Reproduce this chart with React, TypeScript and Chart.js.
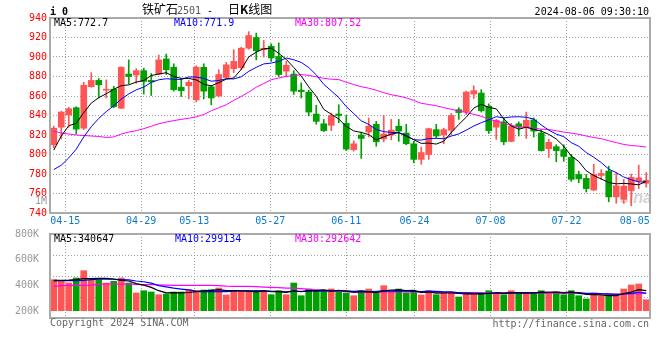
import React, { useEffect, useRef } from 'react';
import { Chart, registerables } from 'chart.js';

Chart.register(...registerables);

// ---------- data ----------
const DATES = [
  '04-11','04-12','04-15','04-16','04-17','04-18','04-19','04-22','04-23','04-24',
  '04-25','04-26','04-29','04-30','05-06','05-07','05-08','05-09','05-10','05-13',
  '05-14','05-15','05-16','05-17','05-20','05-21','05-22','05-23','05-24','05-27',
  '05-28','05-29','05-30','05-31','06-03','06-04','06-05','06-06','06-07','06-11',
  '06-12','06-13','06-14','06-17','06-18','06-19','06-20','06-21','06-24','06-25',
  '06-26','06-27','06-28','07-01','07-02','07-03','07-04','07-05','07-08','07-09',
  '07-10','07-11','07-12','07-15','07-16','07-17','07-18','07-19','07-22','07-23',
  '07-24','07-25','07-26','07-29','07-30','07-31','08-01','08-02','08-05','08-06',
];
const X_TICKS = ['04-15','04-29','05-13','05-27','06-11','06-24','07-08','07-22','08-05'];

const OPEN = [
  810,828,840.5,848,827,869.5,876,866,867,847.5,
  882.5,881.5,886,876,882.5,898,889.5,869,870.5,856,
  889.5,869.5,860,879,888,889,909,920,907.5,911,
  900.5,885.5,882.5,866,864,841.5,831.5,830,841.5,832,
  805,820,823,831,816,820,829,822,811,795,
  800,825.5,820,825,846,844,862,863,849.5,828,
  833.5,813.5,831.5,827.5,835.5,822,806,808,805,797,
  779.5,775.5,763.5,778.5,783,756.5,754,763,773,770.5,
];
const HIGH = [
  829,844.5,848.5,849,874,884,878,876.5,870,890,
  897,888,888.5,883,902,903,893,878,876,891,
  893,871,887,894.5,907.5,910,926,924.5,917,913.5,
  914.5,895.5,886,873.5,866,850.5,836,842.5,851,840,
  814,823,837.5,834,840,836,836,831,813.5,807.5,
  827,831,827,842,848,865,870.5,866.5,852,836,
  837.5,832,833.5,843.5,837.5,825.5,815.5,810,810,800,
  783,779.5,790,784.5,788,781.5,774.5,780,789,781.5,
];
const LOW = [
  807,816,828,821,825.5,869,858,858,848,847,
  872.5,873,862,860.5,882,882,865,859.5,857,854,
  857,851,859,878,884,887,908,897,900,895.5,
  880,880,861.5,858,839.5,831,823.5,824.5,832.5,804,
  803.5,796,818,808.5,813,815,813.5,810,791.5,790,
  795,817,811,820,836,841,857.5,843.5,821.5,815.5,
  810,813,819,816.5,818,803.5,797,792.5,793,772.5,
  771,761.5,763,774.5,751.5,750,750,747.5,765,766.5,
];
const CLOSE = [
  827,843.5,847,826,871,876,871.5,867,849,889.5,
  880,886,875,874.5,897,887,866.5,865.5,874,889.5,
  865,858,882,892,895.5,909,922,906.5,909,899,
  882,891.5,865,864.5,843.5,834,824.5,840,840,805.5,
  811,816.5,829,813,821,825,824,811,795,802,
  826.5,819,825.5,840,843,864,865.5,845,824.5,835,
  813,829,828,835,824,804,812.5,804,798,774.5,
  775,765,779.5,780.5,756.5,768,767.5,776.5,776,773.5,
];
const MA5 = [
  804.5,819,829.5,832,842.9,852.7,858.3,862.3,866.9,870.6,
  871.4,874.3,875.9,881,882.5,883.9,880,878.1,878,876.5,
  872.1,870.4,873.7,877.3,878.5,887.3,900.1,905,908.4,909.1,
  903.7,897.6,889.3,880.4,869.3,859.7,846.3,841.3,836.4,828.8,
  824.2,822.6,820.4,815,818.1,820.9,822.4,818.8,815.2,811.4,
  811.7,810.7,813.6,822.6,830.8,838.3,847.6,851.5,848.4,846.8,
  836.6,829.3,825.9,828,825.8,824,820.7,815.9,808.5,798.6,
  792.8,783.3,778.4,774.9,771.3,769.9,770.4,769.8,768.9,772.7,
];
const MA10 = [
  784.5,789,796.5,805.5,818,828.5,837,844,850,856.8,
  862.1,866.3,869.1,874,876.6,877.7,877.2,877,879.5,879.5,
  878,875.2,875.9,877.7,877.5,879.7,885.3,889.4,892.9,893.8,
  895.5,898.9,897.2,894.4,889.2,881.7,872,865.3,858.4,849.1,
  842,834.5,830.9,825.7,823.5,822.6,822.5,819.6,815.1,814.8,
  816.3,816.6,816.2,818.9,821.1,825,829.2,832.6,835.5,838.8,
  837.5,838.5,838.7,838.2,836.3,830.3,825,820.9,818.3,812.2,
  808.4,802,797.2,791.7,785,781.4,776.9,774.1,771.9,771.9,
];
const MA30 = [
  824,822,821,820,819.5,819,818.5,817.5,818,821,
  823,824.5,826.5,829,831.5,833.3,834.8,836,837.2,838.7,
  841,844.8,848,851,855.5,859.5,864,869,872.8,876.7,
  878.5,880.1,880.7,882,881.1,879.7,878.1,877.2,876.9,874.1,
  871.8,869.5,868,865.9,863.4,861.3,859.9,858.1,855.5,852.5,
  851.3,850,848.1,846.3,844.6,843.1,841.2,839.2,836.3,834.2,
  831.9,829.8,828.6,827.6,827,826,825.6,824.4,823,821.9,
  820.7,819,817.4,816.3,814.1,812.2,810.3,809.2,808.6,807.52,
];

// volume, in thousands of lots
const VOLUME_K = [
  527,500,471,556,680,517,527,471,500,556,
  471,301,340,318,272,284,318,318,357,340,
  352,357,386,267,340,330,340,330,340,272,
  340,272,471,255,369,340,330,369,330,301,
  255,340,369,301,425,313,369,301,313,267,
  340,272,313,313,233,296,296,296,340,296,
  272,340,296,313,296,340,313,318,272,340,
  255,199,301,255,272,255,369,437,454,187,
];
const VOL_MA5_K = [
  515,518,520,530,546.8,544.8,550.2,550.2,539,514.2,
  505,459.8,433.6,397.2,340.4,303,306.4,302,309.8,323.4,
  337,344.8,358.4,340.4,340.4,336,332.6,321.4,336,322.4,
  324.4,310.8,339,322,341.4,341.4,353,332.6,347.6,334,
  317,319,319,313.2,338,349.6,355.4,341.8,344.2,312.6,
  318,298.6,301,301,294.2,285.4,290.2,286.8,292.2,304.8,
  300,308.8,308.8,303.4,303.4,317,311.6,316,307.8,316.6,
  299.6,276.8,273.4,270,256.4,256.4,290.4,317.6,357.4,340.647,
];
const VOL_MA10_K = [
  505,510,510,512,515,530,535,538,535,530.5,
  524.9,505,491.9,468.1,427.3,404,383.1,367.8,353.5,331.9,
  320,325.6,330.2,325.1,331.9,336.5,338.7,339.9,338.2,331.4,
  330.2,321.7,330.2,329,331.9,332.9,331.9,335.8,334.8,337.7,
  329.2,336,325.8,330.4,336,333.3,337.2,330.4,328.7,325.3,
  333.8,327,321.4,322.6,303.4,301.7,294.4,293.9,296.6,299.5,
  292.7,299.5,297.8,297.8,304.1,308.5,310.2,312.4,305.6,310,
  308.3,294.2,294.7,288.9,286.5,278,283.6,295.5,313.7,299.134,
];
const VOL_MA30_K = [
  415,428,431,431,431,435,448,454,454,454,
  452,446,443,443,441,435,431,431,431,431,
  431,430,428,418,414,414,412,408,402,397.9,
  391.7,384.1,384.1,374.1,363.7,355,347,340,332,322,
  314,312.8,313.7,313.2,318.3,319.2,320.9,320.4,318.9,316.5,
  316.1,313.2,310.8,312.3,308.8,307.6,306.2,305,305,305.8,
  303.6,305.8,300,301.9,299.5,299.5,298.9,297.2,295.3,296.6,
  296.6,291.9,289.6,288.1,283,281.1,281.1,285.6,290.3,292.642,
];
const VOL_TICKS_K = [200, 400, 600, 800];

// ---------- styles ----------
const UP = '#ff5555';
const DOWN = '#00a000';
const GRID = '#a0a0a0';
const FRAME = '#aaaaaa';
const MONO = '"DejaVu Sans Mono", monospace';
const CJK = '"Noto Sans CJK SC", sans-serif';
const C_MA5 = '#000000';
const C_MA10 = '#0000ff';
const C_MA30 = '#ff00ff';

const candleColors = CLOSE.map((c, i) => (c >= OPEN[i] ? UP : DOWN));

const framePlugin = {
  id: 'frame',
  afterDatasetsDraw(chart: any) {
    const { ctx, chartArea: a } = chart;
    ctx.save();
    ctx.strokeStyle = FRAME;
    ctx.lineWidth = 2;
    ctx.strokeRect(a.left, a.top, a.right - a.left, a.bottom - a.top);
    ctx.restore();
  },
};

const LAST = DATES.length - 1;
const tickValue = (lbl: string) => Math.min(DATES.indexOf(lbl), LAST - 2);

function xGridAxis(showLabels: boolean) {
  return {
    type: 'linear',
    position: 'bottom',
    min: 0,
    max: LAST,
    offset: false,
    bounds: 'data',
    afterBuildTicks: (s: any) => {
      s.ticks = X_TICKS.map((l) => ({ value: tickValue(l) }));
    },
    ticks: {
      display: showLabels,
      autoSkip: false,
      maxRotation: 0,
      padding: 2,
      color: '#0a7ad0',
      font: { family: MONO, size: 10 },
      callback: (_v: any, i: number) => X_TICKS[i],
    },
    grid: {
      offset: false,
      drawTicks: false,
      lineWidth: 1,
      color: (ctx: any) =>
        DATES.indexOf(X_TICKS[ctx.index]) > LAST - 2 ? 'rgba(0,0,0,0)' : GRID,
    },
    border: { display: false, dash: [1, 2] },
    afterFit: (s: any) => {
      s.height = showLabels ? 17 : 0;
    },
  };
}

const hiddenX = { type: 'category', display: false, offset: true };

function lineDs(label: string, data: number[], color: string, width: number) {
  return {
    type: 'line',
    label,
    data,
    borderColor: color,
    backgroundColor: color,
    borderWidth: width,
    pointRadius: 0,
    tension: 0,
    xAxisID: 'x',
    yAxisID: 'y',
    order: 0,
  };
}

type TProps = {
  x?: number;
  r?: number;
  top: number;
  color?: string;
  size?: number;
  family?: string;
  bold?: boolean;
  italic?: boolean;
  children: React.ReactNode;
};
const T = ({ x, r, top, color = '#000', size = 10, family = MONO, bold, italic, children }: TProps) => (
  <div
    style={{
      position: 'absolute',
      left: x,
      right: r,
      top,
      color,
      fontFamily: family,
      fontSize: size,
      fontWeight: bold ? 'bold' : 'normal',
      fontStyle: italic ? 'italic' : 'normal',
      lineHeight: `${size}px`,
      whiteSpace: 'pre',
    }}
  >
    {children}
  </div>
);

export default function App() {
  const priceRef = useRef<HTMLCanvasElement>(null);
  const volRef = useRef<HTMLCanvasElement>(null);

  useEffect(() => {
    Chart.defaults.font.family = MONO;

    const price = new Chart(priceRef.current as HTMLCanvasElement, {
      type: 'bar',
      data: {
        labels: DATES,
        datasets: [
          lineDs('MA5', MA5, C_MA5, 1),
          lineDs('MA10', MA10, C_MA10, 1),
          lineDs('MA30', MA30, C_MA30, 1),
          {
            type: 'bar',
            label: 'body',
            data: OPEN.map((o, i) => [o, CLOSE[i]]),
            backgroundColor: candleColors,
            barThickness: 6,
            grouped: false,
            xAxisID: 'x',
            yAxisID: 'y',
            order: 1,
          },
          {
            type: 'bar',
            label: 'wick',
            data: LOW.map((l, i) => [l, HIGH[i]]),
            backgroundColor: candleColors,
            barThickness: 1,
            grouped: false,
            xAxisID: 'x',
            yAxisID: 'y',
            order: 2,
          },
        ] as any,
      },
      options: {
        animation: false,
        responsive: false,
        events: [],
        layout: { padding: { top: 18, right: 10, bottom: 0, left: 0 } },
        plugins: { legend: { display: false }, tooltip: { enabled: false } },
        scales: {
          x: hiddenX,
          xg: xGridAxis(true),
          y: {
            position: 'left',
            min: 740,
            max: 940,
            ticks: { stepSize: 20, color: '#ff0000', padding: 3, font: { family: MONO, size: 10 } },
            grid: { color: GRID, drawTicks: false, lineWidth: 1 },
            border: { display: false, dash: [1, 2] },
            afterFit: (s: any) => {
              s.width = 50;
            },
          },
        } as any,
      },
      plugins: [framePlugin],
    });

    const vol = new Chart(volRef.current as HTMLCanvasElement, {
      type: 'bar',
      data: {
        labels: DATES,
        datasets: [
          lineDs('VMA5', VOL_MA5_K, C_MA5, 1.2),
          lineDs('VMA10', VOL_MA10_K, C_MA10, 1.2),
          lineDs('VMA30', VOL_MA30_K, C_MA30, 1.2),
          {
            type: 'bar',
            label: 'volume',
            data: VOLUME_K,
            backgroundColor: candleColors,
            barThickness: 6,
            grouped: false,
            xAxisID: 'x',
            yAxisID: 'y',
            order: 1,
          },
        ] as any,
      },
      options: {
        animation: false,
        responsive: false,
        events: [],
        layout: { padding: { top: 10, right: 10, bottom: 42, left: 0 } },
        plugins: { legend: { display: false }, tooltip: { enabled: false } },
        scales: {
          x: hiddenX,
          xg: xGridAxis(false),
          y: {
            position: 'left',
            min: -124,
            max: 1304,
            beginAtZero: false,
            afterBuildTicks: (s: any) => {
              const step = (s.max - s.min) / 4;
              s.ticks = [1, 2, 3].map((k) => ({ value: s.min + step * k }));
            },
            ticks: { display: false },
            grid: { color: GRID, drawTicks: false, lineWidth: 1 },
            border: { display: false, dash: [1, 2] },
            afterFit: (s: any) => {
              s.width = 0;
            },
          },
          yl: {
            position: 'left',
            min: 145.5,
            max: 800,
            beginAtZero: false,
            afterBuildTicks: (s: any) => {
              s.ticks = VOL_TICKS_K.map((v) => ({ value: v }));
            },
            ticks: {
              color: '#999999',
              padding: 3,
              font: { family: MONO, size: 10 },
              callback: (v: any) => `${v}K`,
            },
            grid: { display: false },
            border: { display: false },
            afterFit: (s: any) => {
              s.width = 50;
            },
          },
        } as any,
      },
      plugins: [framePlugin],
    });

    return () => {
      price.destroy();
      vol.destroy();
    };
  }, []);

  return (
    <div
      style={{
        position: 'fixed',
        left: 0,
        top: 0,
        width: 660,
        height: 360,
        background: '#ffffff',
        overflow: 'hidden',
      }}
    >
      {/* faint watermark, drawn beneath the candles */}
      <T x={620} top={190} size={16} color="#d4d4d4" family='"Liberation Sans", sans-serif' bold italic>
        sina
      </T>

      <canvas ref={priceRef} width={660} height={230} style={{ position: 'absolute', left: 0, top: 0 }} />
      <canvas ref={volRef} width={660} height={136} style={{ position: 'absolute', left: 0, top: 224 }} />

      <T x={50} top={6.8} bold>i 0</T>
      <T x={142} top={3} size={12} family={CJK}>铁矿石</T>
      <T x={177} top={5.5} color="#555555">2501</T>
      <T x={207} top={5.5}>-</T>
      <T x={228} top={3} size={12} family={CJK}>
        日<b>K</b>线图
      </T>
      <T r={11} top={7}>2024-08-06 09:30:10</T>

      <T x={54} top={17.8} color={C_MA5}>MA5:772.7</T>
      <T x={174} top={17.8} color={C_MA10}>MA10:771.9</T>
      <T x={295} top={17.8} color={C_MA30}>MA30:807.52</T>

      <T r={613} top={196} color="#999999">1M</T>

      <T x={54} top={233.8} color={C_MA5}>MA5:340647</T>
      <T x={175} top={233.8} color={C_MA10}>MA10:299134</T>
      <T x={295} top={233.8} color={C_MA30}>MA30:292642</T>

      <T x={50} top={318} color="#666666">Copyright 2024 SINA.COM</T>
      <T r={11} top={319} color="#666666">http://finance.sina.com.cn</T>
    </div>
  );
}
